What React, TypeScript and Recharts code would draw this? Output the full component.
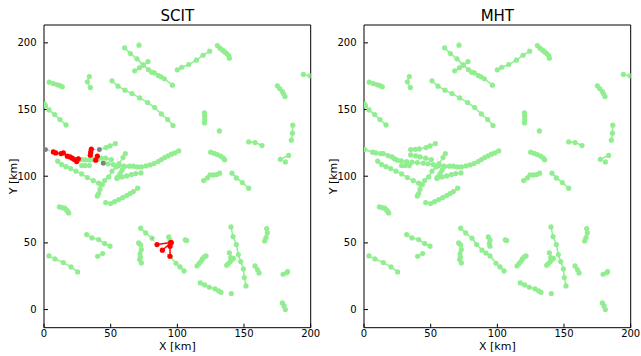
import React from 'react';
import { ScatterChart, Scatter, XAxis, YAxis } from 'recharts';

type P = [number, number];

const GREEN = '#90ee90';
const RED = '#ff0000';
const GREY = '#808080';

const xTicks = [0, 50, 100, 150, 200];
const yTicks = [0, 50, 100, 150, 200];
const titles = ['SCIT', 'MHT'];

// ---- tracks common to both panels ----
const tA: P[] = [[60.5,196.25],[64.75,192],[69.75,188],[74.25,183.5],[78.25,180],[80.75,178],[82.75,177.5],[85.75,175.5],[87.75,174.5],[90.25,173],[96.25,168.25]];
const tB: P[] = [[68,179],[71.5,181.3],[74.5,183.3],[78,186]];
const s1: P[] = [[71.25,198.25]];
const tC: P[] = [[4,170.5],[7,169.5],[10,168.5],[12,168],[13.75,167]];
const tD: P[] = [[34,174.75],[32.5,170.75],[34.75,166.5]];
const tE: P[] = [[0.5,154],[1,153],[3.75,149.7],[8,146.2],[12,142.5],[16.5,138.5]];
const tF: P[] = [[51,171.5],[55.5,167.5],[60.75,164.5],[66,162],[71.75,158.7],[77.75,155.2],[83,151.5],[88,146.7],[92.75,142.5],[96.75,138]];
const tG: P[] = [[100,179.75],[103.25,181.7],[108.5,183.7],[114.25,187],[119.25,190.7],[124.25,193.75]];
const tH: P[] = [[130,198],[132,196],[134,194.5],[135.5,193.2],[137,192],[138.5,190.5],[139,188.5]];
const tI: P[] = [[175,167.75],[176.75,165.7],[178.75,163.5],[179.5,162],[180.75,159.75]];
const tJ: P[] = [[194.5,176.3],[199.5,175.3]];
const tK: P[] = [[120.3,147.5],[120.5,145],[120.5,142.5],[120.4,140]];
const s2: P[] = [[131.5,134]];
const tL: P[] = [[186.6,138.3],[186.3,132.3],[185.5,127]];
const tM: P[] = [[153.5,125.75],[158.25,125.25],[163.5,123]];
const tN: P[] = [[177.2,112.7],[183.4,115.6]];
const s3: P[] = [[181,110.7]];
const tO: P[] = [[125,118],[127.5,117.2],[130,116.3],[132.5,115],[134.5,113.5],[135.5,112.3]];
const tP: P[] = [[119.75,96.75],[122.5,98.75],[124.5,101],[127,101],[129.5,101.25],[131.75,102.25]];
const tQ: P[] = [[141,102.25],[144.25,98.75],[148.75,95.25],[153.5,91]];
const tR: P[] = [[140.25,62],[141.75,54.75],[144.25,48.75],[145.75,41.25],[147.5,36],[149.5,30.5],[150.25,24],[151.5,17.75]];
const tS: P[] = [[167,60.75],[167.5,57.5],[166.5,54],[165.5,51.5]];
const tT1: P[] = [[137,33.25],[138.25,34.5],[139.75,36],[141,37.5],[142,38.5]];
const tT2: P[] = [[139,42.5],[140,39]];
const tU: P[] = [[158.25,32.75],[160,30],[161.25,27.5]];
const tV: P[] = [[179.3,26.5],[182,27.6],[182.7,28.5]];
const tW: P[] = [[178.75,5],[180,2.75],[181,0]];
const tX: P[] = [[117.25,20],[120.5,18.5],[124,16.75],[128.25,15.5],[131,14],[132.75,13]];
const s4: P[] = [[140.5,12]];
const tY: P[] = [[114.75,32.75],[116.25,34.5],[117.75,36.25],[118.75,38],[120.25,39.5],[121.5,40.25]];
const s5: P[] = [[106,52.3],[107,51.8]];
const tZ: P[] = [[71,50],[72.5,48.5],[73,45],[72,42],[72.25,39.5],[71.75,37.5],[73,35]];
const tAA: P[] = [[11.5,77],[13.5,76.5],[15.5,76],[16.5,75],[17.5,74],[18.5,72.5]];
const tAB: P[] = [[46.25,80.25],[50,79.5],[53,81],[56,82.5],[59,84],[62,85.5],[64.5,87],[67,88.5],[70.25,91]];
const tAC: P[] = [[32,56.25],[36,53.75],[41,52.5],[45.5,49.5],[49.5,47.5]];
const tAD: P[] = [[40.25,40],[44,42]];
const tAE: P[] = [[3.75,40.25],[8.25,38],[14.5,35.25],[20.25,32],[25.25,28.25]];
const tLL: P[] = [[10.25,111.25],[13.25,108.75],[16.5,107.25],[20,105.75],[24,103.75],[28.25,101.75],[32.5,99],[37,96.75],[41,94.75],[43,93.75]];
const tVV: P[] = [[61,117],[59.25,114],[56.25,109.5],[54,107],[51,103.75],[48.5,99.5],[45.5,96.75],[43.75,93.75],[42,90.25],[41,87],[40,85.25]];
const tRight: P[] = [[60,107.5],[64,107.5],[67,107.5],[70,107],[73,107],[76.5,107.75],[79.5,108.5],[82.5,109.5],[85.5,111],[88,112.5],[90.5,114],[93,115.25],[95.5,116.5],[98,117.5],[101,119]];
const tZa: P[] = [[60,107],[58.5,104.5],[57,102],[55.5,99.5],[54.75,98.5]];
const tZb: P[] = [[54.75,98.5],[58.5,99.5],[62,100.25],[65.5,101.25],[68.75,102],[72.75,102.5]];
const tSG: P[] = [[28.25,108],[30.75,108],[34,108]];

// ---- SCIT only ----
const scitL1tail: P[] = [[44.5,109.75],[48,109.3],[52,108.8],[56,108],[60,107.2]];
const scitMid: P[] = [[25.75,113],[28.5,112.5],[31,112.3],[34,112.2],[37,112.5],[40,113],[43,113.5],[46.25,113.5],[50.5,112.5]];
const scit120: P[] = [[41.5,120],[46.5,121.5],[49.5,122.75],[53.5,124.5]];
const scitDiagA: P[] = [[72.5,61],[76.25,57.5],[81,53.5]];
const scitDiagB: P[] = [[94.5,40],[99,34.75],[102,32],[105,29]];
const scitAF: P[] = [[93.5,54.5],[94.5,52]];
const scitRed1: P[] = [[7,118.25],[8.75,117.5],[12.75,117],[14.5,117.5],[17.5,115],[19.5,114.5],[21.25,113.5],[22.75,112.5],[24.5,111],[25.75,113]];
const scitRed2: P[] = [[35.5,120.25],[35,118],[34.75,115.75]];
const scitRed3: P[] = [[40,115],[38.75,112]];
const scitRed4: P[] = [[84.75,48.75],[95.25,50.25]];
const scitRed5: P[] = [[95.25,50.25],[94.5,47.5],[94.5,40]];
const scitRed6: P[] = [[95.25,50.25],[88.75,44.5]];
const scitGreyDots: P[] = [[1.25,120],[41.5,120],[44.5,109.75]];
const scitDot1: P[] = [[1.25,120],[7,118.25]];
const scitDot2: P[] = [[35.5,120.25],[41.5,120]];
const scitDot3: P[] = [[38.75,112],[44.5,109.75]];
const scitDot4: P[] = [[81,53.5],[84.75,48.75]];
const scitDot5: P[] = [[88.75,44.5],[94.5,40]];

// ---- MHT only ----
const mhtL1: P[] = [[0.5,120],[6.5,118],[9,117.5],[12.5,117],[14.5,117],[18,115.5],[21,114.5],[23,113],[25,112],[28,111.5],[32,111],[36,110.5],[40,110.2],[44.5,109.75],[48,109.3],[52,108.8],[56,108],[60,107.2]];
const mhtL3: P[] = [[35,116],[38.75,115.25],[42,114.5],[46.25,113.5],[50.5,112.5]];
const mht120: P[] = [[35,120],[38.5,120.2],[41.5,120.5],[46.5,121.5],[49.5,122.75],[53.5,124.5]];
const mhtDiag: P[] = [[72.5,61],[76.25,57.5],[81,53.5],[84.5,48.75],[88.5,44.5],[91.5,42.3],[94.5,40.25],[99,34.75],[102,32],[105,29]];
const mhtAF: P[] = [[93.25,54.5],[94.5,52],[94,49.5],[94.5,47.5]];

const shared: P[][] = [tA,tB,s1,tC,tD,tE,tF,tG,tH,tI,tJ,tK,s2,tL,tM,tN,s3,tO,tP,tQ,tR,tS,tT1,tT2,tU,tV,tW,tX,s4,tY,s5,tZ,tAA,tAB,tAC,tAD,tAE,tLL,tVV,tRight,tZa,tZb,tSG];
const scitGreen: P[][] = [...shared, scitL1tail, scitMid, scit120, scitDiagA, scitDiagB, scitAF];
const scitRed: P[][] = [scitRed1, scitRed2, scitRed3, scitRed4, scitRed5, scitRed6];
const scitDotted: P[][] = [scitDot1, scitDot2, scitDot3, scitDot4, scitDot5];
const mhtGreen: P[][] = [...shared, mhtL1, mhtL3, mht120, mhtDiag, mhtAF];
const anchor: P[] = [[0, 0]];

const toObj = (t: P[]) => t.map(([x, y]) => ({ x, y }));

const dotShape = (color: string, r: number) => (props: any) =>
  props.cx == null ? <g /> : <circle cx={props.cx} cy={props.cy} r={r} fill={color} />;

const trackSeries = (tracks: P[][], color: string, prefix: string) =>
  tracks.map((t, i) => (
    <Scatter
      key={prefix + i}
      data={toObj(t)}
      xAxisId="b"
      yAxisId="l"
      isAnimationActive={false}
      line={{ stroke: color, strokeWidth: 1.5 }}
      lineType="joint"
      shape={dotShape(color, 2.6)}
    />
  ));

const dottedSeries = (tracks: P[][], prefix: string) =>
  tracks.map((t, i) => (
    <Scatter
      key={prefix + i}
      data={toObj(t)}
      xAxisId="b"
      yAxisId="l"
      isAnimationActive={false}
      line={{ stroke: GREY, strokeWidth: 1, strokeDasharray: '1 2' }}
      lineType="joint"
      shape={() => <g />}
    />
  ));

const FONT = 'DejaVu Sans, sans-serif';
const PW = 266.7;

function Panel({ title, left, width, children }: { title: string; left: number; width: number; children: any }) {
  return (
    <div style={{ position: 'absolute', left, top: 0 }}>
      <ScatterChart width={width} height={356} margin={{ left: 0, top: 0, right: 0, bottom: 0 }} style={{ fontFamily: FONT }}>
        <XAxis
          xAxisId="b"
          type="number"
          dataKey="x"
          domain={[0, 200]}
          ticks={xTicks}
          allowDataOverflow
          height={28.3}
          tickSize={-4}
          tickMargin={6}
          stroke="#000"
          tick={{ fill: '#000', fontSize: 10, fontFamily: FONT }}
          label={{ value: 'X [km]', position: 'insideBottom', offset: 6, fill: '#000', fontSize: 11, fontFamily: FONT }}
        />
        <XAxis
          xAxisId="t"
          orientation="top"
          type="number"
          dataKey="x"
          domain={[0, 200]}
          ticks={xTicks}
          allowDataOverflow
          height={25}
          tickSize={-4}
          stroke="#000"
          tick={false}
          label={{ value: title, position: 'insideTop', offset: 10.5, fill: '#000', fontSize: 15, fontFamily: FONT }}
        />
        <YAxis
          yAxisId="l"
          type="number"
          dataKey="y"
          domain={[-13.6, 213.4]}
          ticks={yTicks}
          allowDataOverflow
          width={44}
          tickSize={-4}
          tickMargin={11.5}
          stroke="#000"
          tick={{ fill: '#000', fontSize: 10, fontFamily: FONT }}
          label={{ value: 'Y [km]', angle: -90, position: 'insideLeft', offset: 13, fill: '#000', fontSize: 11, fontFamily: FONT, style: { textAnchor: 'middle' } }}
        />
        <YAxis
          yAxisId="r"
          orientation="right"
          type="number"
          dataKey="y"
          domain={[-13.6, 213.4]}
          ticks={yTicks}
          allowDataOverflow
          width={width - 44 - PW}
          tickSize={-4}
          stroke="#000"
          tick={false}
        />
        <Scatter data={toObj(anchor)} xAxisId="t" yAxisId="r" isAnimationActive={false} shape={() => <g />} />
        {children}
      </ScatterChart>
    </div>
  );
}

export default function App() {
  return (
    <div style={{ position: 'absolute', left: 0, top: 0, width: 641, height: 356, background: '#fff' }}>
      <Panel title={titles[0]} left={0} width={320}>
        {trackSeries(scitGreen, GREEN, 'sg')}
        {dottedSeries(scitDotted, 'sd')}
        <Scatter
          data={toObj(scitGreyDots)}
          xAxisId="b"
          yAxisId="l"
          isAnimationActive={false}
          shape={dotShape(GREY, 2.4)}
        />
        {trackSeries(scitRed, RED, 'sr')}
      </Panel>
      <Panel title={titles[1]} left={320} width={321}>
        {trackSeries(mhtGreen, GREEN, 'mg')}
      </Panel>
    </div>
  );
}
